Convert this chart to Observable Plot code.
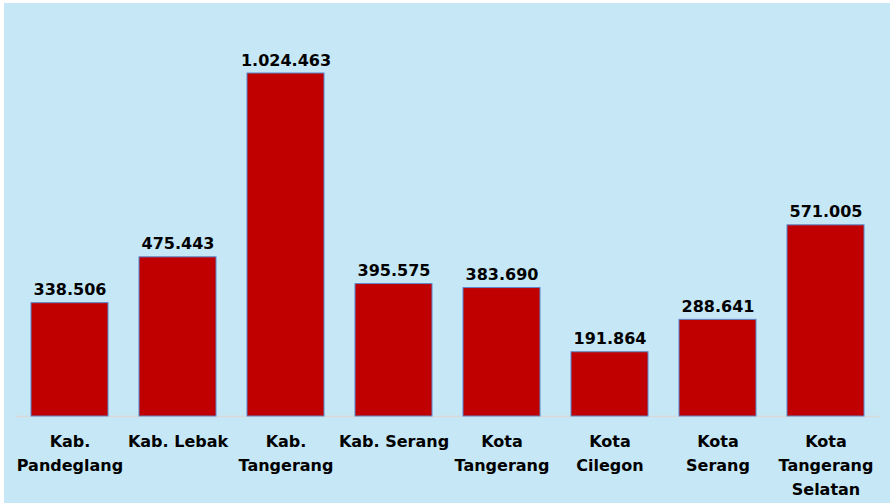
<!DOCTYPE html>
<html>
<head>
<meta charset="utf-8">
<script src="https://cdn.jsdelivr.net/npm/d3@7"></script>
<script src="https://cdn.jsdelivr.net/npm/@observablehq/plot@0.6"></script>
<style>
  html, body { margin: 0; padding: 0; background: #ffffff; }
  #chart { position: absolute; left: 4px; top: 3px; }
  #chart svg { background: #C5E7F6; display: block; }
</style>
</head>
<body>
<div id="chart"></div>
<script>
const categories = ["Kab. Pandeglang", "Kab. Lebak", "Kab. Tangerang", "Kab. Serang", "Kota Tangerang", "Kota Cilegon", "Kota Serang", "Kota Tangerang Selatan"];
const tickLabels = ["Kab.\nPandeglang", "Kab. Lebak", "Kab.\nTangerang", "Kab. Serang", "Kota\nTangerang", "Kota\nCilegon", "Kota\nSerang", "Kota\nTangerang\nSelatan"];
const values = [338506, 475443, 1024463, 395575, 383690, 191864, 288641, 571005];

const data = categories.map((c, i) => ({category: c, value: values[i]}));
const labelOf = new Map(categories.map((c, i) => [c, tickLabels[i]]));
const fmt = d3.formatLocale({decimal: ",", thousands: ".", grouping: [3], currency: ["", ""]}).format(",");

const chart = Plot.plot({
  width: 886,
  height: 500,
  marginLeft: 11.5,
  marginRight: 10.5,
  marginTop: 70,
  marginBottom: 87,
  style: {fontFamily: "'DejaVu Sans', Verdana, sans-serif", background: "#C5E7F6"},
  x: {domain: categories, paddingInner: 0.287, paddingOuter: 0.1435, label: null},
  y: {domain: [0, 1024463], axis: null},
  marks: [
    Plot.ruleY([0], {stroke: "#D9D9D9", strokeWidth: 1.5}),
    Plot.barY(data, {x: "category", y: "value", fill: "#C00000", stroke: "#5B86C9", strokeWidth: 1}),
    Plot.text(data, {x: "category", y: "value", text: d => fmt(d.value), dy: -8, lineAnchor: "bottom", fontSize: 16, fontWeight: "bold", fill: "#000000"}),
    Plot.axisX({tickSize: 0, tickPadding: 13, tickFormat: d => labelOf.get(d), fontSize: 16, fontWeight: "bold", lineHeight: 1.5, lineAnchor: "top", fill: "#000000", label: null})
  ]
});
document.getElementById("chart").appendChild(chart);
</script>
</body>
</html>
